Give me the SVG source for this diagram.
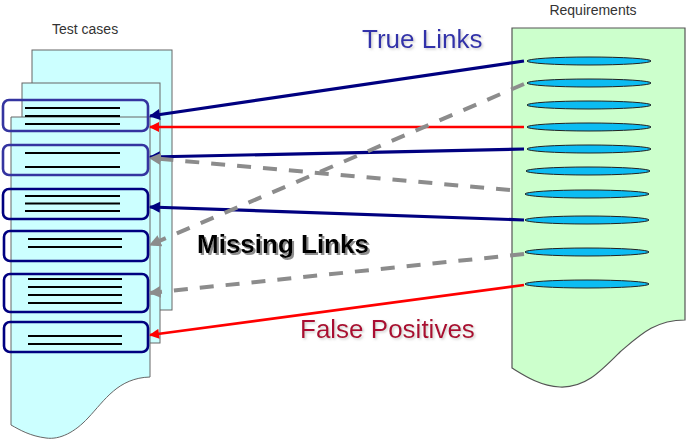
<svg xmlns="http://www.w3.org/2000/svg" width="686" height="439" viewBox="0 0 686 439">
  <style>
    .cap { font-family: "Liberation Sans", Arial, sans-serif; font-size: 14px; fill: #333; }
    .page { fill: #ccffff; stroke: #666; stroke-width: 1; }
    .req { fill: #ccffcc; stroke: #555; stroke-width: 1.2; }
    .case { fill: none; stroke: #000080; stroke-width: 2.6; }
    .case.soft { stroke: #3434a0; }
    .bar { stroke: #000; stroke-width: 2.2; }
    .item { fill: #0cbcf2; stroke: #222; stroke-width: 1; }
    .true { stroke: #000080; stroke-width: 3.2; fill: none; marker-end: url(#headNavy); }
    .false { stroke: #ff0000; stroke-width: 2.6; fill: none; marker-end: url(#headRed); }
    .missing { stroke: #8c8c8c; stroke-width: 4; fill: none; stroke-dasharray: 14 12; marker-end: url(#headGray); }
    .label { font-family: "Liberation Sans", Arial, sans-serif; font-size: 26px; }
  </style>
  <defs>
    <marker id="headNavy" viewBox="0 0 10 10" refX="9" refY="5" markerUnits="userSpaceOnUse" markerWidth="12" markerHeight="11" orient="auto">
      <path d="M0,0 L10,5 L0,10 Z" fill="#000080"/>
    </marker>
    <marker id="headRed" viewBox="0 0 10 10" refX="9" refY="5" markerUnits="userSpaceOnUse" markerWidth="11" markerHeight="10" orient="auto">
      <path d="M0,0 L10,5 L0,10 Z" fill="#ff0000"/>
    </marker>
    <marker id="headGray" viewBox="0 0 10 10" refX="9" refY="5" markerUnits="userSpaceOnUse" markerWidth="12" markerHeight="12" orient="auto">
      <path d="M0,0 L10,5 L0,10 Z" fill="#8c8c8c"/>
    </marker>
    <!-- text shadows -->
    <filter id="shadowStrong" x="-5%" y="-20%" width="115%" height="150%">
      <feDropShadow dx="2" dy="2" stdDeviation="0.6" flood-color="#808080" flood-opacity="0.9"/>
    </filter>
    <filter id="shadowSoft" x="-5%" y="-20%" width="115%" height="150%">
      <feDropShadow dx="1.5" dy="1.5" stdDeviation="0.8" flood-color="#a0a0a0" flood-opacity="0.5"/>
    </filter>
  </defs>

  <rect width="686" height="439" fill="#ffffff"/>

  <!-- test case document stack -->
  <g id="test-cases">
    <text class="cap" x="52" y="34">Test cases</text>
    <rect class="page" x="32" y="50" width="140" height="260"/>
    <rect class="page" x="22" y="83" width="138" height="260"/>
    <path class="page" d="M11,117 H150 V377 C118,378 105,400 88,418 C75,432 60,440 46,438 C30,436 20,430 11,425 Z" stroke="#444"/>
  </g>

  <!-- requirements document -->
  <g id="requirements">
    <text class="cap" x="593" y="15" text-anchor="middle">Requirements</text>
    <path class="req" d="M512,28 H685 V320 C655,320 640,335 620,352 C600,372 585,388 560,387 C540,386 525,376 512,368 Z"/>
    <ellipse class="item" cx="589" cy="61" rx="62" ry="4"/>
    <ellipse class="item" cx="589" cy="83" rx="62" ry="4"/>
    <ellipse class="item" cx="589" cy="105" rx="62" ry="4"/>
    <ellipse class="item" cx="589" cy="127" rx="62" ry="4"/>
    <ellipse class="item" cx="589" cy="149" rx="62" ry="4"/>
    <ellipse class="item" cx="588" cy="171" rx="62" ry="4"/>
    <ellipse class="item" cx="587" cy="194" rx="62" ry="4"/>
    <ellipse class="item" cx="587" cy="220" rx="62" ry="4"/>
    <ellipse class="item" cx="587" cy="252" rx="62" ry="4"/>
    <ellipse class="item" cx="587" cy="284" rx="62" ry="4"/>
  </g>

  <!-- test case entries -->
  <g id="case-1">
    <rect class="case soft" x="3" y="100" width="145" height="31" rx="6"/>
    <line class="bar" x1="25" y1="108" x2="120" y2="108"/>
    <line class="bar" x1="25" y1="116" x2="120" y2="116"/>
    <line class="bar" x1="25" y1="124" x2="120" y2="124"/>
  </g>
  <g id="case-2">
    <rect class="case soft" x="3" y="145" width="145" height="30" rx="6"/>
    <line class="bar" x1="25" y1="153" x2="120" y2="153"/>
    <line class="bar" x1="25" y1="167" x2="120" y2="167"/>
  </g>
  <g id="case-3">
    <rect class="case" x="3" y="189" width="145" height="30" rx="6"/>
    <line class="bar" x1="25" y1="196" x2="120" y2="196"/>
    <line class="bar" x1="25" y1="203.5" x2="120" y2="203.5"/>
    <line class="bar" x1="25" y1="211" x2="120" y2="211"/>
  </g>
  <g id="case-4">
    <rect class="case" x="4" y="231" width="144" height="30" rx="6"/>
    <line class="bar" x1="28" y1="239" x2="122" y2="239"/>
    <line class="bar" x1="28" y1="247" x2="122" y2="247"/>
  </g>
  <g id="case-5">
    <rect class="case" x="4" y="274" width="144" height="38" rx="6"/>
    <line class="bar" x1="28" y1="279" x2="122" y2="279"/>
    <line class="bar" x1="28" y1="287" x2="122" y2="287"/>
    <line class="bar" x1="28" y1="295" x2="122" y2="295"/>
    <line class="bar" x1="28" y1="303" x2="122" y2="303"/>
  </g>
  <g id="case-6">
    <rect class="case" x="4" y="322" width="144" height="30" rx="6"/>
    <line class="bar" x1="28" y1="336" x2="122" y2="336"/>
    <line class="bar" x1="28" y1="344" x2="122" y2="344"/>
  </g>

  <!-- trace links -->
  <g id="connectors">
    <line class="true" x1="524" y1="61" x2="150" y2="116"/>
    <line class="false" x1="524" y1="127" x2="150" y2="127"/>
    <line class="true" x1="524" y1="149" x2="150" y2="157"/>
    <line class="true" x1="524" y1="220" x2="150" y2="207"/>
    <line class="missing" x1="510" y1="190" x2="150" y2="158"/>
    <line class="missing" x1="524" y1="84" x2="150" y2="245"/>
    <line class="missing" x1="524" y1="254" x2="150" y2="293"/>
    <line class="false" x1="524" y1="285" x2="150" y2="335"/>
  </g>

  <!-- legend labels -->
  <g id="labels">
    <text class="label" x="362" y="48" fill="#3333aa" filter="url(#shadowSoft)">True Links</text>
    <text class="label" x="197" y="253" font-size="26.5" font-weight="bold" fill="#000" filter="url(#shadowStrong)">Missing Links</text>
    <text class="label" x="300" y="338" fill="#aa1133" filter="url(#shadowSoft)">False Positives</text>
  </g>
</svg>
